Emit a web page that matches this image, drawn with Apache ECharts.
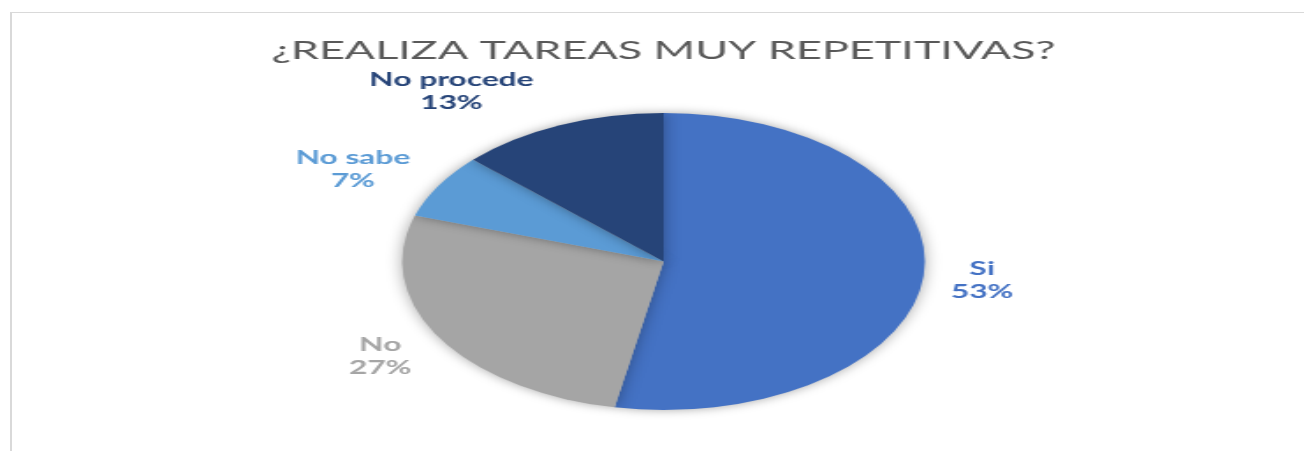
<!DOCTYPE html>
<html>
<head>
<meta charset="utf-8">
<script src="https://cdn.jsdelivr.net/npm/echarts@6/dist/echarts.min.js"></script>
<style>
  html, body { margin: 0; padding: 0; background: #fff; overflow: hidden; }
  .page { position: relative; width: 1304px; height: 451px; overflow: hidden; }
  .frame {
    position: absolute; left: 10px; top: 12px; width: 1400px; height: 500px;
    border-left: 2px solid #d9d9d9; border-top: 1px solid #d9d9d9;
  }
  /* la imagen original está estirada en horizontal */
  .chart {
    position: absolute; left: 0; top: 0; width: 754px; height: 451px;
    transform: scaleX(1.76); transform-origin: 0 0;
  }
</style>
</head>
<body>
<div class="page">
  <div class="frame"></div>
  <div class="chart" id="chart"></div>
</div>
<script>
const titleText = "¿REALIZA TAREAS MUY REPETITIVAS?";
const categories = ["Si", "No", "No sabe", "No procede"];
const values = [53, 27, 7, 13];
const colors = ["#4472C4", "#A5A5A5", "#5B9BD5", "#264478"];
// distancia del centro de cada etiqueta y giro respecto a la mitad del sector (grados)
const labelRadius = [182, 187, 199, 208];
const labelTurn = [0.6, 0, -3.1, -12];

const center = [377, 261.5];
const radius = 148.5;
const total = values.reduce((a, b) => a + b, 0);

const myChart = echarts.init(document.getElementById("chart"));
const option = {
  animation: false,
  title: {
    text: titleText,
    left: "center",
    top: 33,
    textStyle: {
      fontFamily: "Lato",
      fontSize: 25.5,
      fontWeight: "normal",
      color: "#595959"
    }
  },
  series: [
    {
      type: "pie",
      center: center,
      radius: radius,
      startAngle: 90,
      clockwise: true,
      data: categories.map((name, i) => ({
        name: name,
        value: values[i],
        itemStyle: { color: colors[i] },
        label: { color: colors[i] }
      })),
      itemStyle: {
        shadowBlur: 10,
        shadowColor: "rgba(0,0,0,0.35)"
      },
      label: {
        show: true,
        position: "outside",
        formatter: "{b}\n{d}%",
        fontFamily: "Lato",
        fontWeight: "bold",
        fontSize: 18,
        lineHeight: 23
      },
      labelLine: { show: false },
      labelLayout: function (p) {
        const i = p.dataIndex;
        let before = 0;
        for (let k = 0; k < i; k++) before += values[k];
        const a = ((before + values[i] / 2) / total) * Math.PI * 2 + labelTurn[i] * Math.PI / 180;
        return {
          x: center[0] + labelRadius[i] * Math.sin(a),
          y: center[1] - labelRadius[i] * Math.cos(a),
          align: "center",
          verticalAlign: "middle"
        };
      },
      emphasis: { disabled: true }
    }
  ]
};
option && myChart.setOption(option);
</script>
</body>
</html>
